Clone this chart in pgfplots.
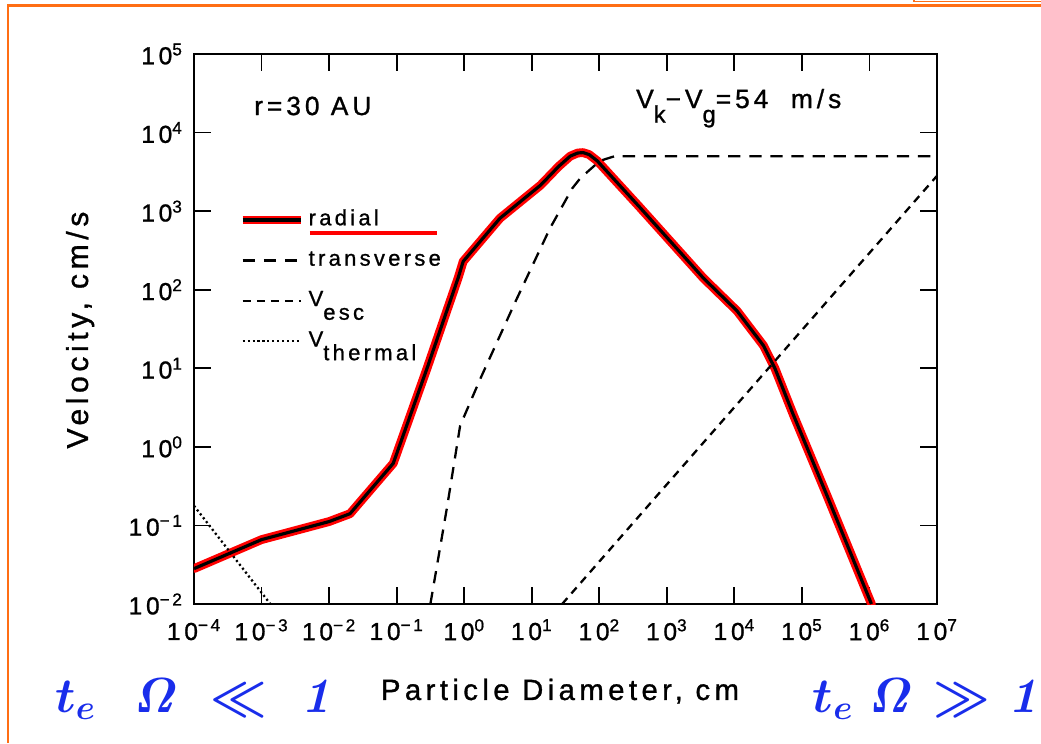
\RequirePackage{fix-cm}
\documentclass[border=0pt]{standalone}
\usepackage[no-math]{fontspec}
\setmainfont{Liberation Sans}[LetterSpace=15,FakeBold=1]
\usepackage{pgfplots}
\pgfplotsset{compat=1.18}
\definecolor{frameorange}{RGB}{255,110,20}
\definecolor{handblue}{RGB}{25,45,235}
\newcommand{\lsub}[1]{\raisebox{-0.62em}{\fontsize{12.5}{13}\selectfont #1}}
\newcommand{\vsub}[1]{\raisebox{-0.55em}{\fontsize{13.5}{14}\selectfont #1}}
\newcommand{\handL}{\textcolor{handblue}{\boldmath$t_e\mskip 12mu\mathit{\Omega}\mskip 5mu\ll\mskip 6mu\mathit{1}$}}
\newcommand{\handR}{\textcolor{handblue}{\boldmath$t_e\mskip 5mu\mathit{\Omega}\mskip 1mu\gg\mskip 1mu\mathit{1}$}}
\begin{document}
\begin{tikzpicture}
\useasboundingbox (0,0) rectangle (20.82,14.86);
\fill[white] (0,0) rectangle (20.82,14.86);
\draw[frameorange, line width=1.3pt] (0.16,0) -- (0.16,14.75) -- (20.82,14.75);
\draw[frameorange, line width=1pt] (18.28,14.9) -- (18.28,14.83) -- (20.9,14.83);

\begin{axis}[
  at={(3.88cm,2.78cm)}, anchor=south west,
  scale only axis, width=14.86cm, height=11cm,
  xmode=log, ymode=log,
  xmin=1e-4, xmax=1e7, ymin=1e-2, ymax=1e5,
  xtick={1e-4,1e-3,1e-2,1e-1,1,1e1,1e2,1e3,1e4,1e5,1e6,1e7},
  xticklabels={10\textsuperscript{−4},10\textsuperscript{−3},10\textsuperscript{−2},10\textsuperscript{−1},10\textsuperscript{0},10\textsuperscript{1},10\textsuperscript{2},10\textsuperscript{3},10\textsuperscript{4},10\textsuperscript{5},10\textsuperscript{6},10\textsuperscript{7}},
  ytick={1e-2,1e-1,1,1e1,1e2,1e3,1e4,1e5},
  yticklabels={10\textsuperscript{−2},10\textsuperscript{−1},10\textsuperscript{0},10\textsuperscript{1},10\textsuperscript{2},10\textsuperscript{3},10\textsuperscript{4},10\textsuperscript{5}},
  xminorticks=false, yminorticks=false,
  tick align=inside, major tick length=0.34cm,
  tick style={black, line width=1pt},
  axis line style={line width=1.1pt},
  ticklabel style={font=\fontsize{14}{16}\selectfont},
  xticklabel style={yshift=-0.18cm},
  yticklabel style={xshift=-0.1cm},
  xlabel={Particle Diameter, cm},
  xlabel style={at={(axis description cs:0.4926,-0.1745)}, anchor=base, font=\fontsize{16.7}{19}\selectfont},
  ylabel={Velocity, cm/s},
  ylabel style={at={(axis description cs:-0.1427,0.498)}, anchor=base, font=\fontsize{17.2}{19}\selectfont},
  legend image code/.code={\draw[#1] (0cm,0cm) -- (1.16cm,0cm);},
  legend style={at={(rel axis cs:0.0592,0.7244)}, anchor=north west, draw=none, fill=none, inner sep=0pt,
    font=\fontsize{12.5}{14}\selectfont, row sep=7pt,
    nodes={inner sep=2pt, text height=9pt, text depth=3pt},
    /tikz/every even column/.append style={column sep=0.25cm}},
  legend cell align=left,
]
% radial (red highlight under black)
\addplot[red, line width=5pt, line join=round, line cap=round, forget plot] coordinates {
(1e-4,0.0282) (1e-3,0.066) (1e-2,0.112) (0.0204,0.141) (0.0891,0.617) (0.282,10) (0.813,141) (0.966,229)
(3.39,813) (13.5,2138) (25.1,3715) (37.2,5012) (47.9,5495) (57.5,5560) (70.8,5250) (93.3,4365) (407,1096) (3467,141) (10965,53.7)
(26915,19.5) (39811,10.0) (74131,2.6) (239883,0.23) (1.023e6,0.011) (1.07e6,0.01)};
\addplot[black, line width=1.8pt, line join=round,
  legend image code/.code={\draw[red,line width=5pt] (0cm,0cm) -- (1.16cm,0cm); \draw[black,line width=1.8pt] (0cm,0cm) -- (1.16cm,0cm);}] coordinates {
(1e-4,0.0282) (1e-3,0.066) (1e-2,0.112) (0.0204,0.141) (0.0891,0.617) (0.282,10) (0.813,141) (0.966,229)
(3.39,813) (13.5,2138) (25.1,3715) (37.2,5012) (47.9,5495) (57.5,5560) (70.8,5250) (93.3,4365) (407,1096) (3467,141) (10965,53.7)
(26915,19.5) (39811,10.0) (74131,2.6) (239883,0.23) (1.023e6,0.011) (1.07e6,0.01)};
\addlegendentry{radial}
% transverse
\addplot[black, line width=1.3pt, dash pattern=on 7pt off 5pt] coordinates {
(0.316,0.01) (0.562,0.178) (0.871,1.86) (1.74,7.41) (5.75,70.8) (18.6,603) (39.8,1950) (52.5,2630) (102,4365) (170,5012) (1e7,5012)};
\addlegendentry{transverse}
% V_esc
\addplot[black, line width=1.3pt, dash pattern=on 4.5pt off 3.5pt] coordinates {
(28.2,0.01) (1e7,2818)};
\addlegendentry{V\lsub{esc}}
% V_thermal
\addplot[black, line width=1.3pt, dash pattern=on 1.2pt off 1.6pt] coordinates {
(1e-4,0.178) (1.35e-3,0.01)};
\addlegendentry{V\lsub{thermal}}

\draw[red, line width=2pt] (rel axis cs:0.156,0.6745) -- (rel axis cs:0.327,0.6745);
\node[anchor=base west, font=\fontsize{15}{18}\selectfont] at (rel axis cs:0.0727,0.889) {r=30 AU};
\node[anchor=base west, font=\fontsize{15}{18}\selectfont] at (rel axis cs:0.5868,0.9018) {V\vsub{k}−V\vsub{g}=54\ \ m/s};
\end{axis}

\node[anchor=base west, inner sep=0pt, font=\fontsize{28}{32}\selectfont] at (1.1,0.62) {\handL};
\node[anchor=base west, inner sep=0pt, font=\fontsize{28}{32}\selectfont] at (16.25,0.62) {\handR};
\end{tikzpicture}
\end{document}
